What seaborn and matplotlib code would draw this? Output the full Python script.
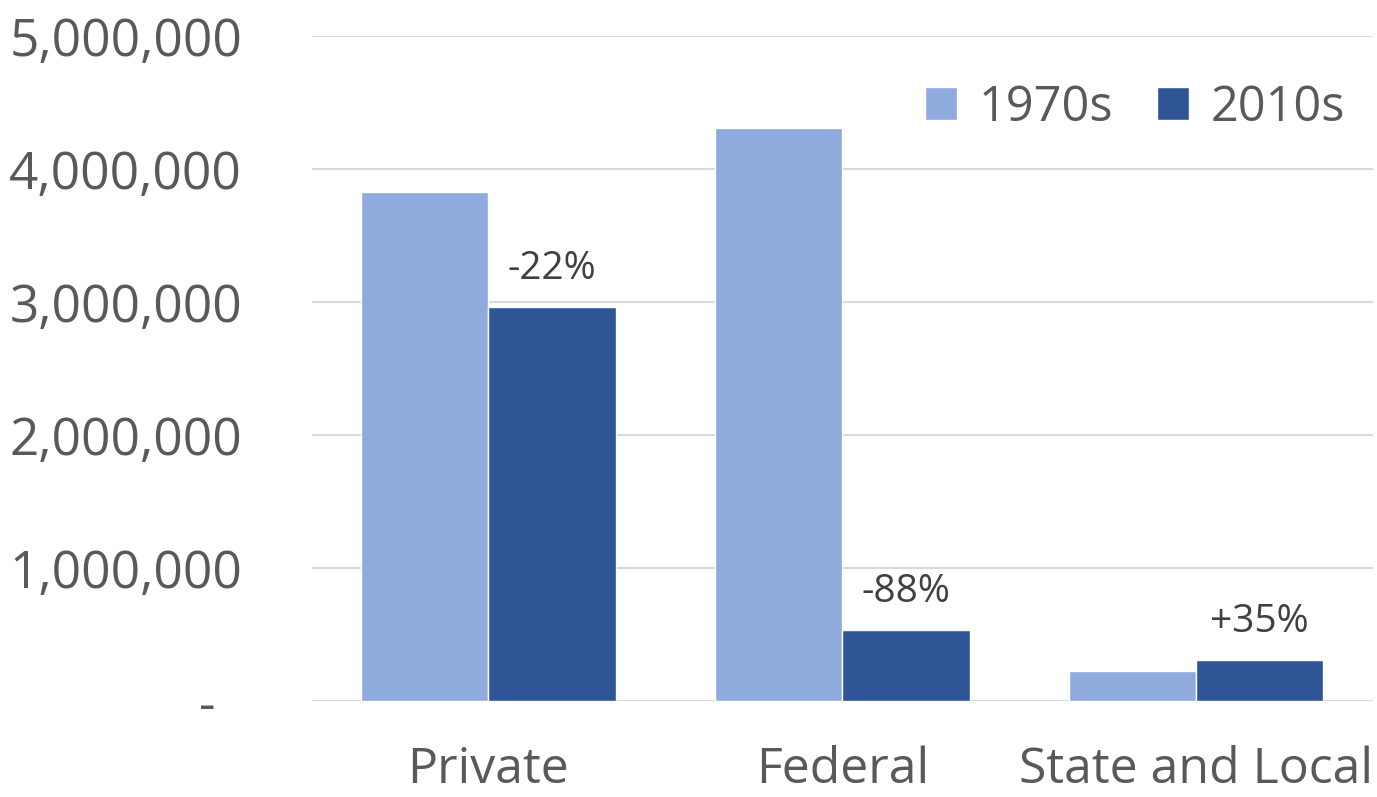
import numpy as np
import pandas as pd
import matplotlib
matplotlib.use("Agg")
from matplotlib import pyplot as plt
from matplotlib import ticker
import seaborn as sns

# data
sectors = ["Private", "Federal", "State and Local"]
decades = ["1970s", "2010s"]
jobs_1970s = [3827000, 4308000, 228000]
jobs_2010s = [2962000, 534000, 308000]
change_labels = ["-22%", "-88%", "+35%"]
yticks = [0, 1000000, 2000000, 3000000, 4000000, 5000000]

colors = ["#8FAADC", "#2F5597"]
text_grey = "#595959"

df = pd.DataFrame({
    "sector": sectors * 2,
    "decade": [decades[0]] * 3 + [decades[1]] * 3,
    "jobs": jobs_1970s + jobs_2010s,
})

sns.set_theme(style="white")
plt.rcParams["font.family"] = ["Open Sans", "DejaVu Sans"]

fig = plt.figure(figsize=(13.77, 7.97), dpi=100)
ax = fig.add_axes([0.2263, 0.1204, 0.7707, 0.8344])

sns.barplot(data=df, x="sector", y="jobs", hue="decade", order=sectors,
            hue_order=decades, palette=colors, width=0.72, gap=0,
            saturation=1, ax=ax, legend=True)

ax.set_xlim(-0.5, 2.5)
ax.set_ylim(0, 5000000)
ax.set_yticks(yticks)


def fmt(v, pos):
    if v == 0:
        return "-  "
    return f"{v:,.0f}"


ax.yaxis.set_major_formatter(ticker.FuncFormatter(fmt))
ax.grid(axis="y", color="#D9D9D9", linewidth=1.5)
ax.set_axisbelow(True)
for s in ["top", "right", "left", "bottom"]:
    ax.spines[s].set_visible(False)
ax.axhline(0, color="#D9D9D9", linewidth=1.5, zorder=0)

ax.tick_params(axis="y", labelsize=37, labelcolor=text_grey, length=0, pad=50)
ax.tick_params(axis="x", labelsize=36, labelcolor=text_grey, length=0, pad=32)
ax.set_xlabel("")
ax.set_ylabel("")

# change labels over the 2010s bars
bars_2010 = ax.containers[1]
for rect, lab in zip(bars_2010, change_labels):
    ax.annotate(lab, (rect.get_x() + rect.get_width() / 2, rect.get_height()),
                xytext=(0, 14), textcoords="offset points", ha="center",
                va="bottom", fontsize=28, color="#404040")

leg = ax.legend(loc="upper right", bbox_to_anchor=(1.015, 0.995), ncol=2,
                frameon=False, fontsize=35, labelcolor=text_grey,
                handlelength=0.65, handleheight=0.65, handletextpad=0.45,
                columnspacing=0.9)

fig.savefig("out.png", dpi=100)
